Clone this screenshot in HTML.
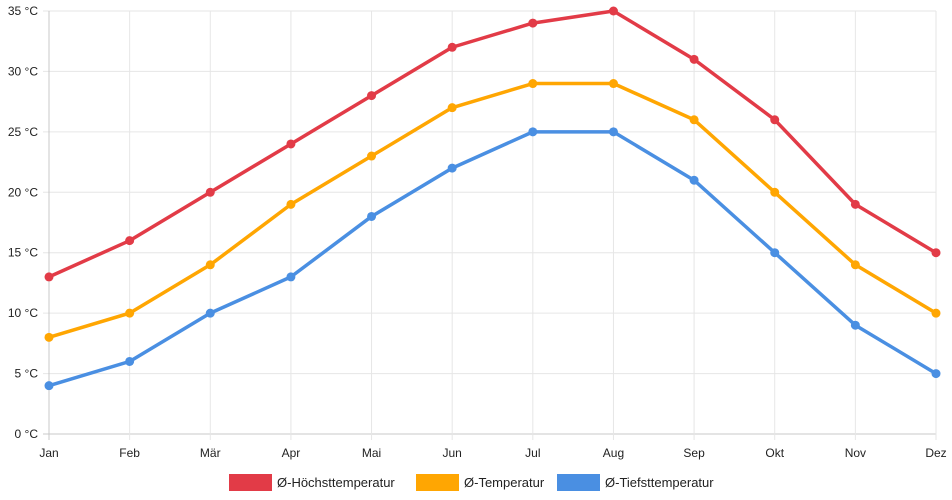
<!DOCTYPE html>
<html><head><meta charset="utf-8"><style>
html,body{margin:0;padding:0;background:#fff;}
svg{display:block;font-family:"Liberation Sans",sans-serif;}
</style></head><body>
<svg id="chart" width="952" height="500"></svg>
<script>
const categories=["Jan","Feb","Mär","Apr","Mai","Jun","Jul","Aug","Sep","Okt","Nov","Dez"];
const highTemps=[13,16,20,24,28,32,34,35,31,26,19,15];
const avgTemps=[8,10,14,19,23,27,29,29,26,20,14,10];
const lowTemps=[4,6,10,13,18,22,25,25,21,15,9,5];
const yTicks=[0,5,10,15,20,25,30,35];
const seriesNames=["Ø-Höchsttemperatur","Ø-Temperatur","Ø-Tiefsttemperatur"];
const NS="http://www.w3.org/2000/svg";
const svg=document.getElementById('chart');
const L=49,R=936,T=11,B=434,YMAX=35;
const x=i=>L+i*(R-L)/(categories.length-1);
const y=v=>B-v*(B-T)/YMAX;
function mk(tag,attrs,parent){const e=document.createElementNS(NS,tag);for(const k in attrs)e.setAttribute(k,attrs[k]);(parent||svg).appendChild(e);return e;}
const grid=mk('g',{});


yTicks.forEach(t=>{
  const ln=mk('line',{x1:L-6,x2:R,y1:y(t),y2:y(t),stroke:t===0?'#c8c8c8':'#e6e6e6','stroke-width':1},grid);
  
  
  const tx=mk('text',{x:L-11,y:y(t)+4,'text-anchor':'end','font-size':12,fill:'#222'},grid);
  
  
  tx.textContent=t+' °C';
});
categories.forEach((c,i)=>{
  const ln=mk('line',{x1:x(i),x2:x(i),y1:T,y2:B+6,stroke:i===0?'#c8c8c8':'#e6e6e6','stroke-width':1},grid);
  
  
  const tx=mk('text',{x:x(i),y:B+23,'text-anchor':'middle','font-size':12,fill:'#222'},grid);
  
  
  tx.textContent=c;
});
const series=[[highTemps,'#e23b47','high-temp'],[avgTemps,'#ffa602','avg-temp'],[lowTemps,'#4a8fe2','low-temp']];
series.forEach(([data,col,name])=>{
  const g=mk('g',{});
  
  
  const p=mk('polyline',{points:data.map((v,i)=>x(i)+','+y(v)).join(' '),fill:'none',stroke:col,'stroke-width':3.5,'stroke-linejoin':'round'},g);
  
  
  data.forEach((v,i)=>{
    const c=mk('circle',{cx:x(i),cy:y(v),r:4.5,fill:col},g);
    
    
  });
});
const leg=mk('g',{});


const legX=[229,416,557];
seriesNames.forEach((n,i)=>{
  const r=mk('rect',{x:legX[i],y:474,width:43,height:17,fill:series[i][1]},leg);
  
  
  const t=mk('text',{x:legX[i]+48,y:487,'font-size':13,fill:'#222'},leg);
  
  
  t.textContent=n;
});
</script>
</body></html>
